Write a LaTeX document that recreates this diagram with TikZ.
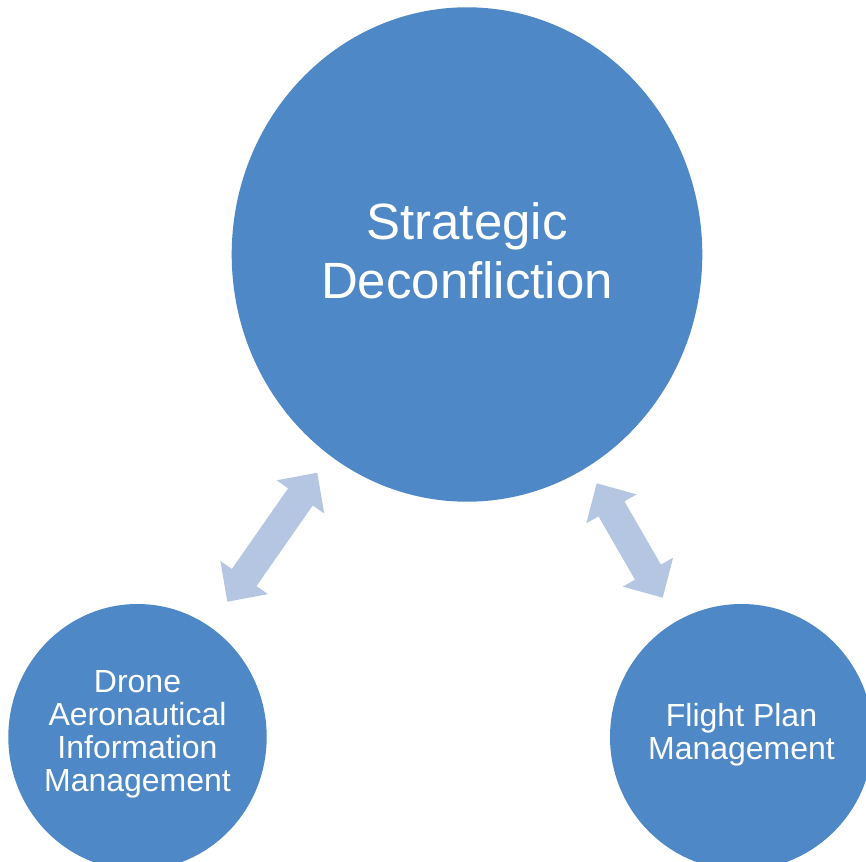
\documentclass[tikz,border=0pt]{standalone}
\usepackage{fontspec}
\setmainfont{Liberation Sans}
\usetikzlibrary{shapes.geometric,calc}
\definecolor{bubblefill}{HTML}{4F88C6}
\definecolor{arrowfill}{HTML}{B4C6E1}
\tikzset{
  bubble/.style={ellipse, fill=bubblefill, draw=none, inner sep=0pt},
  bigtext/.style={text=white, align=center, font=\fontsize{51}{59}\selectfont},
  smalltext/.style={text=white, align=center, font=\fontsize{32}{33}\selectfont},
  blockarrow/.style={fill=arrowfill, draw=none}
}
\newcommand{\dblarrow}[2]{%
  \fill[blockarrow]
    (#1)
    -- ($($(#1)!29.5pt!(#2)$)!29pt!90:(#2)$)
    -- ($($(#1)!29.5pt!(#2)$)!15pt!90:(#2)$)
    -- ($($(#2)!29.5pt!(#1)$)!15pt!-90:(#1)$)
    -- ($($(#2)!29.5pt!(#1)$)!29pt!-90:(#1)$)
    -- (#2)
    -- ($($(#2)!29.5pt!(#1)$)!29pt!90:(#1)$)
    -- ($($(#2)!29.5pt!(#1)$)!15pt!90:(#1)$)
    -- ($($(#1)!29.5pt!(#2)$)!15pt!-90:(#2)$)
    -- ($($(#1)!29.5pt!(#2)$)!29pt!-90:(#2)$)
    -- cycle;}
\begin{document}
\begin{tikzpicture}[x=1pt,y=-1pt]
  \path[use as bounding box] (0,0) rectangle (866,861);
  \begin{scope}
    \clip (0,0) rectangle (866,861);
    \node[bubble, minimum width=470.6pt, minimum height=494.4pt] (sd) at (467,254.5) {};
    \node[bubble, minimum width=258.4pt, minimum height=266pt] (dai) at (137.5,737) {};
    \node[bubble, minimum width=263pt, minimum height=266pt] (fpm) at (741.5,737) {};
  \end{scope}
  \node[bigtext] (sdt) at (467,251) {Strategic\\Deconfliction};
  \node[smalltext] (dait) at (137.5,734.5) {Drone\\Aeronautical\\Information\\Management};
  \node[smalltext] (fpmt) at (741.5,735) {Flight Plan\\Management};
  \coordinate (la) at (317.3,472.7);
  \coordinate (lb) at (227.3,601.7);
  \coordinate (ra) at (596.7,483.3);
  \coordinate (rb) at (662.7,597.7);
  \dblarrow{la}{lb}
  \dblarrow{ra}{rb}
\end{tikzpicture}
\end{document}
